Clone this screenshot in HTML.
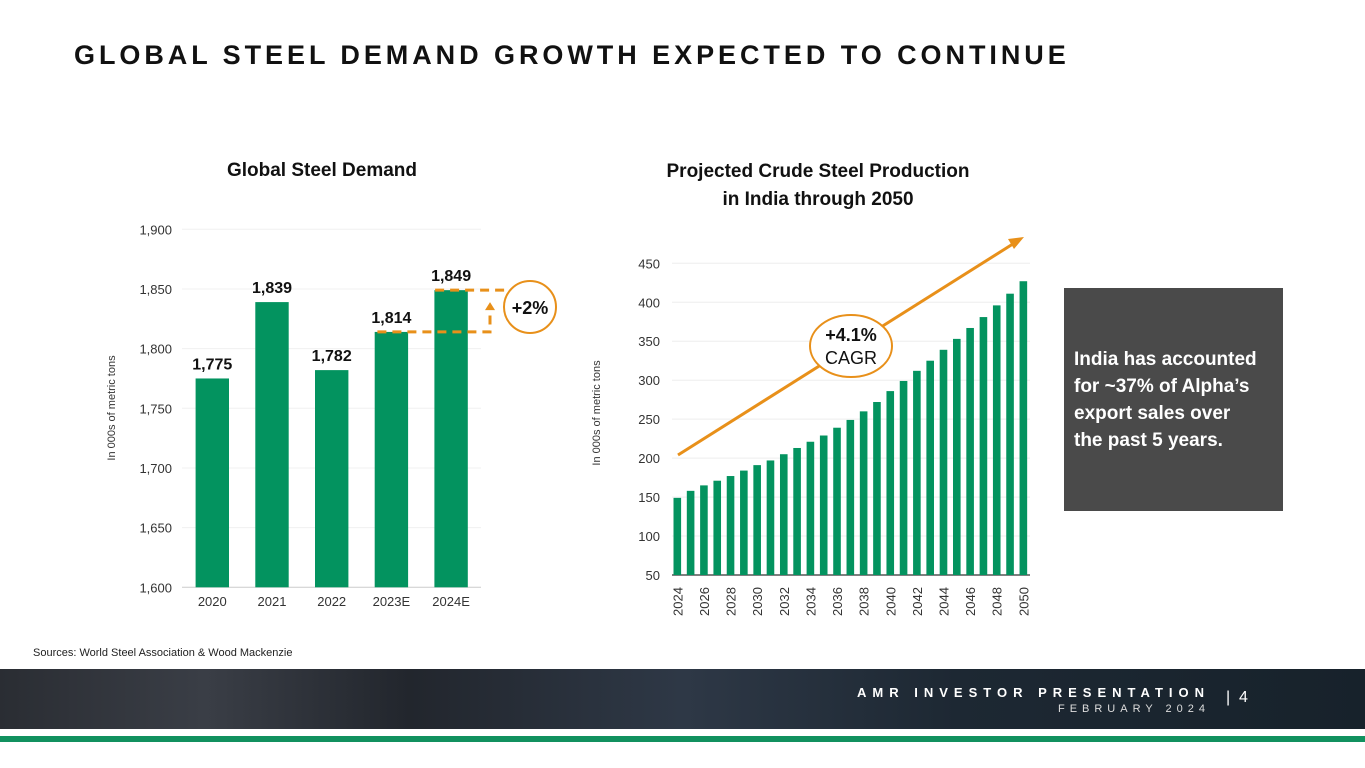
<!DOCTYPE html>
<html><head><meta charset="utf-8"><style>
body{margin:0;width:1365px;height:768px;background:#fff;overflow:hidden;position:relative;font-family:"Liberation Sans",sans-serif}
.t{position:absolute;white-space:nowrap}
</style></head><body>
<div class="t" style="left:74px;top:40px;font-size:27px;font-weight:bold;letter-spacing:3.95px;color:#111">GLOBAL STEEL DEMAND GROWTH EXPECTED TO CONTINUE</div>
<svg id="c" width="1365" height="768" style="position:absolute;left:0;top:0">
<text x="322" y="176" text-anchor="middle" font-size="19" font-weight="bold" fill="#111">Global Steel Demand</text>
<text x="818" y="177" text-anchor="middle" font-size="19" font-weight="bold" fill="#111">Projected Crude Steel Production</text>
<text x="818" y="205" text-anchor="middle" font-size="19" font-weight="bold" fill="#111">in India through 2050</text>
<text transform="translate(115,408) rotate(-90)" text-anchor="middle" font-size="11" fill="#333">In 000s of metric tons</text>
<text transform="translate(600,413) rotate(-90)" text-anchor="middle" font-size="11" fill="#333">In 000s of metric tons</text>
<g id="L"></g><g id="R"></g>
<text x="33" y="656" font-size="11" fill="#222">Sources: World Steel Association &amp; Wood Mackenzie</text>
</svg>
<div style="position:absolute;left:1064px;top:288px;width:219px;height:223px;background:#4a4a4a"></div>
<div class="t" style="left:1074px;top:346px;color:#fff;font-size:19px;font-weight:bold;line-height:27px">India has accounted<br>for ~37% of Alpha’s<br>export sales over<br>the past 5 years.</div>
<div style="position:absolute;left:0;top:669px;width:1365px;height:60px;background:linear-gradient(90deg,#2a2d33 0%,#3a3e46 15%,#22262d 30%,#2e3846 50%,#1d2833 70%,#17222b 100%)"></div>
<div class="t" style="right:155px;top:685px;color:#fff;font-size:13px;font-weight:bold;letter-spacing:6px">AMR INVESTOR PRESENTATION</div>
<div class="t" style="right:155px;top:703px;color:#ddd;font-size:11px;letter-spacing:5px">FEBRUARY 2024</div>
<div class="t" style="left:1226px;top:689px;color:#fff;font-size:16px">|&nbsp;&nbsp;4</div>
<div style="position:absolute;left:0;top:736px;width:1365px;height:6px;background:#11915f"></div>
<script>
const NS="http://www.w3.org/2000/svg";
function mk(p,t,a,txt){const e=document.createElementNS(NS,t);for(const k in a)e.setAttribute(k,a[k]);if(txt!=null)e.textContent=txt;p.appendChild(e);return e;}
// Left chart data
const leftCats=["2020","2021","2022","2023E","2024E"];
const leftVals=[1775,1839,1782,1814,1849];
const leftTicks=[1600,1650,1700,1750,1800,1850,1900];
// Right chart data
const rightYears=[2024,2025,2026,2027,2028,2029,2030,2031,2032,2033,2034,2035,2036,2037,2038,2039,2040,2041,2042,2043,2044,2045,2046,2047,2048,2049,2050];
const rightVals=[149,158,165,171,177,184,191,197,205,213,221,229,239,249,260,272,286,299,312,325,339,353,367,381,396,411,427];
const rightTicks=[50,100,150,200,250,300,350,400,450];

const L=document.getElementById('L');
const ly=v=>587.3-(v-1600)*(358/300);
const lx=i=>212.3+i*59.7;
leftTicks.forEach(t=>{
  const g=mk(L,'line',{x1:182,x2:481,y1:ly(t),y2:ly(t),stroke:t===1600?'#ccc':'#f0f0f0','stroke-width':1});
  
  
  const tx=mk(L,'text',{x:172,y:ly(t)+5,'text-anchor':'end','font-size':13,fill:'#333'},t.toLocaleString('en-US'));
  
  
});
leftVals.forEach((v,i)=>{
  const r=mk(L,'rect',{x:lx(i)-16.7,y:ly(v),width:33.4,height:587.3-ly(v),fill:'#03935f'});
  
  
  const t=mk(L,'text',{x:lx(i),y:ly(v)-9,'text-anchor':'middle','font-size':16,'font-weight':'bold',fill:'#111'},v.toLocaleString('en-US'));
  
  
  const c=mk(L,'text',{x:lx(i),y:606,'text-anchor':'middle','font-size':13,fill:'#333'},leftCats[i]);
  
  
});
const y23=ly(leftVals[3]),y24=ly(leftVals[4]);
const d1=mk(L,'path',{d:`M${lx(3)-14} ${y23} H490 V${y24+18}`,fill:'none',stroke:'#e8901a','stroke-width':3,'stroke-dasharray':'9 6'});


const ar=mk(L,'path',{d:`M485 ${y24+20} L490 ${y24+12} L495 ${y24+20}Z`,fill:'#e8901a'});


const d2=mk(L,'line',{x1:lx(4)-16,x2:505,y1:y24,y2:y24,stroke:'#e8901a','stroke-width':3,'stroke-dasharray':'9 6'});


const gc=mk(L,'ellipse',{cx:530,cy:307,rx:26,ry:26,fill:'#fff',stroke:'#e8901a','stroke-width':2});


const gt=mk(L,'text',{x:530,y:314,'text-anchor':'middle','font-size':18,'font-weight':'bold',fill:'#111'},'+2%');



const R=document.getElementById('R');
const ry=v=>575-(v-50)*(311.7/400);
const rx=i=>677.3+i*13.31;
rightTicks.forEach(t=>{
  const g=mk(R,'line',{x1:672,x2:1030,y1:ry(t),y2:ry(t),stroke:t===50?'#555':'#eee','stroke-width':t===50?1.5:1});
  
  
  const tx=mk(R,'text',{x:660,y:ry(t)+5,'text-anchor':'end','font-size':13,fill:'#333'},t);
  
  
});
rightVals.forEach((v,i)=>{
  const r=mk(R,'rect',{x:rx(i)-3.8,y:ry(v),width:7.6,height:575-ry(v),fill:'#03935f'});
  
  
  if(i%2===0){
    const t=mk(R,'text',{transform:`translate(${rx(i)+5},616) rotate(-90)`,'font-size':13,fill:'#333'},rightYears[i]);
    
    
  }
});
const tl=mk(R,'line',{x1:678,y1:455,x2:1016,y2:242,stroke:'#e8901a','stroke-width':3});


const th=mk(R,'path',{d:'M1024 237 L1008 239 L1014 249Z',fill:'#e8901a'});


const ce=mk(R,'ellipse',{cx:851,cy:346,rx:41,ry:31,fill:'#fff',stroke:'#e8901a','stroke-width':2});


const c1=mk(R,'text',{x:851,y:341,'text-anchor':'middle','font-size':18,'font-weight':'bold',fill:'#111'},'+4.1%');


const c2=mk(R,'text',{x:851,y:364,'text-anchor':'middle','font-size':18,fill:'#111'},'CAGR');


</script>
</body></html>
